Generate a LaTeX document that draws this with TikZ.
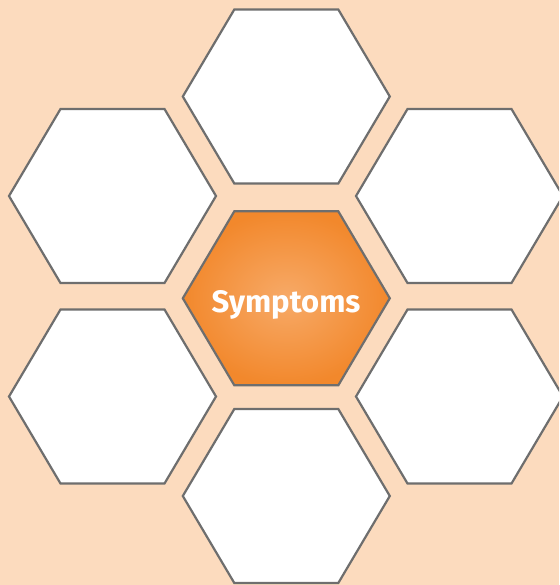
\documentclass[tikz,border=0pt]{standalone}
\usepackage{fontspec}
\setmainfont{Fira Sans}
\definecolor{bg}{RGB}{252,219,190}
\definecolor{edge}{RGB}{110,110,110}
\definecolor{orA}{RGB}{247,170,104}
\definecolor{orB}{RGB}{242,136,44}
\begin{document}
\begin{tikzpicture}[x=1pt,y=-1pt,
  hexline/.style={draw=edge, line width=2.2pt, line join=miter},
  title/.style={text=white, font=\fontsize{31}{34}\selectfont\bfseries, inner sep=0pt}]
\fill[bg] (0,0) rectangle (559,585);
\useasboundingbox (0,0) rectangle (559,585);
\clip (0,0) rectangle (559,585);
\foreach \cx/\cy in {286.3/96.5, 112.5/196, 459.5/196, 112.5/396.5, 459.5/396.5, 286.3/496}
  \filldraw[fill=white, hexline] (\cx-103.5,\cy) -- (\cx-52,\cy-87) -- (\cx+52,\cy-87) -- (\cx+103.5,\cy) -- (\cx+52,\cy+87) -- (\cx-52,\cy+87) -- cycle;
\def\cx{286.3}\def\cy{298.3}
\shade[inner color=orA, outer color=orB] (\cx-103.5,\cy) -- (\cx-52,\cy-87) -- (\cx+52,\cy-87) -- (\cx+103.5,\cy) -- (\cx+52,\cy+87) -- (\cx-52,\cy+87) -- cycle;
\draw[hexline] (\cx-103.5,\cy) -- (\cx-52,\cy-87) -- (\cx+52,\cy-87) -- (\cx+103.5,\cy) -- (\cx+52,\cy+87) -- (\cx-52,\cy+87) -- cycle;
\node[title, anchor=base] (symptoms) at (286,312) {Symptoms};
\end{tikzpicture}
\end{document}
